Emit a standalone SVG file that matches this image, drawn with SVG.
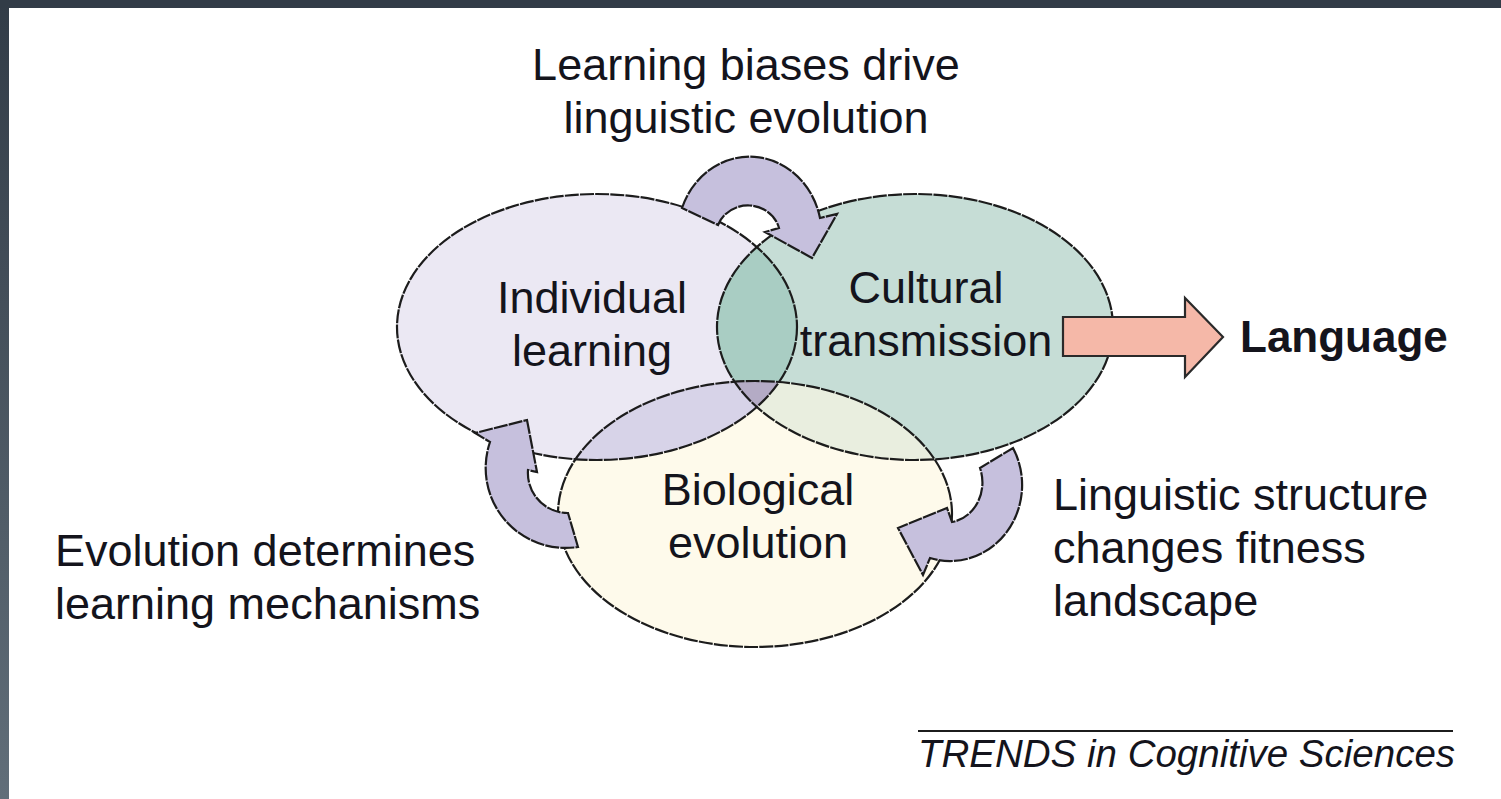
<svg xmlns="http://www.w3.org/2000/svg" width="1501" height="799" viewBox="0 0 1501 799">
  <style>
    .lbl { font-family: "Liberation Sans", Arial, sans-serif; font-size: 45px; fill: #14141c; }
    .mid { text-anchor: middle; }
    .outline { fill: none; stroke: #1c1c1c; stroke-width: 2.2; stroke-dasharray: 14 1.2; }
    .loop { fill: #c6c0dd; stroke: #1c1c1c; stroke-width: 2.2; stroke-dasharray: 14 1.2; stroke-linejoin: miter; }
  </style>
  <defs>
    <linearGradient id="frameGrad" x1="0" y1="0" x2="0" y2="1">
      <stop offset="0" stop-color="#323c47"/>
      <stop offset="1" stop-color="#616e79"/>
    </linearGradient>
    <ellipse id="shapeInd" cx="597" cy="327" rx="200" ry="133"/>
    <ellipse id="shapeCult" cx="915" cy="327" rx="198" ry="133"/>
    <ellipse id="shapeBio" cx="755" cy="514" rx="197" ry="133"/>
    <clipPath id="clipInd"><use href="#shapeInd"/></clipPath>
    <clipPath id="clipCult"><use href="#shapeCult"/></clipPath>
  </defs>

  <!-- page and frame -->
  <rect x="0" y="0" width="1501" height="799" fill="#ffffff"/>
  <rect x="0" y="0" width="9" height="799" fill="url(#frameGrad)"/>
  <rect x="0" y="0" width="1501" height="8" fill="#323c47"/>

  <!-- overlapping circles of the three processes -->
  <g id="venn">
    <use href="#shapeInd" fill="#ebe8f3"/>
    <use href="#shapeCult" fill="#c6ddd6"/>
    <use href="#shapeBio" fill="#fefaeb"/>
    <use href="#shapeCult" fill="#a9cdc3" clip-path="url(#clipInd)"/>
    <use href="#shapeBio" fill="#d7d3e8" clip-path="url(#clipInd)"/>
    <use href="#shapeBio" fill="#e9eedf" clip-path="url(#clipCult)"/>
    <g clip-path="url(#clipCult)">
      <use href="#shapeBio" fill="#b4abc5" clip-path="url(#clipInd)"/>
    </g>
  </g>

  <g id="node-individual">
    <use href="#shapeInd" class="outline"/>
    <text class="lbl mid" x="592" y="313">Individual</text>
    <text class="lbl mid" x="592" y="366">learning</text>
  </g>
  <g id="node-cultural">
    <use href="#shapeCult" class="outline"/>
    <text class="lbl mid" x="926" y="303">Cultural</text>
    <text class="lbl mid" x="926" y="356">transmission</text>
  </g>
  <g id="node-biological">
    <use href="#shapeBio" class="outline"/>
    <text class="lbl mid" x="758" y="505">Biological</text>
    <text class="lbl mid" x="758" y="558">evolution</text>
  </g>

  <!-- curved feedback arrows and the output arrow -->
  <g id="connectors">
    <path class="loop" d="M 682,208 A 72,78 0 0 1 820,218 L 837,214 L 812,258 L 765,232 L 779,228 A 32,30 0 0 0 718,225 Z"/>
    <path class="loop" d="M 527,420 L 537,472 L 528,470 A 40,40 0 0 0 568,513 L 578,547 A 80,80 0 0 1 490,442 L 475,433 Z"/>
    <path class="loop" d="M 1013,448 A 72,76 0 0 1 930,558 L 923,575 L 898,528 L 947,508 L 952,522 A 36,40 0 0 0 980,468 Z"/>
    <path d="M 1063,317 L 1185,317 L 1185,298 L 1223,337 L 1185,377 L 1185,356 L 1063,356 Z" fill="#f5b8a8" stroke="#2a2a2a" stroke-width="2.2" stroke-linejoin="miter"/>
  </g>

  <g id="label-learning-biases">
    <text class="lbl mid" x="746" y="80">Learning biases drive</text>
    <text class="lbl mid" x="746" y="133">linguistic evolution</text>
  </g>
  <g id="label-evolution">
    <text class="lbl" x="55" y="566">Evolution determines</text>
    <text class="lbl" x="55" y="619">learning mechanisms</text>
  </g>
  <g id="label-structure">
    <text class="lbl" x="1053" y="510">Linguistic structure</text>
    <text class="lbl" x="1053" y="563">changes fitness</text>
    <text class="lbl" x="1053" y="616">landscape</text>
  </g>
  <g id="node-language">
    <text class="lbl" x="1240" y="352" style="font-weight:bold;font-size:44px">Language</text>
  </g>

  <g id="credit">
    <line x1="918" y1="731" x2="1453" y2="731" stroke="#1c1c1c" stroke-width="2.2"/>
    <text class="lbl" x="918" y="767" style="font-style:italic;font-size:38.5px">TRENDS in Cognitive Sciences</text>
  </g>
</svg>
